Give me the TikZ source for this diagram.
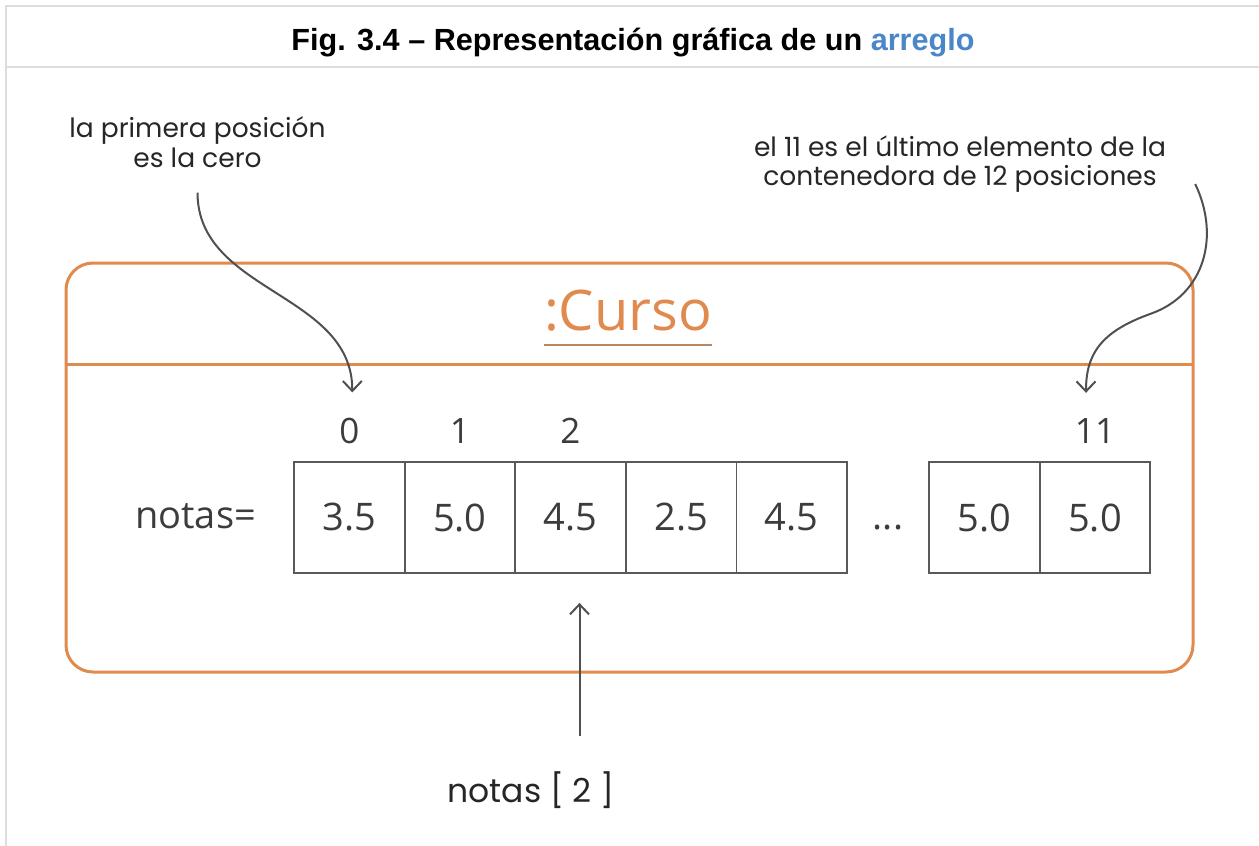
\documentclass[tikz,border=0pt]{standalone}
\usepackage{fontspec}
\setmainfont{Liberation Sans}
\newfontfamily\valfont{Open Sans}
\newfontfamily\handfont{Poppins}
\usetikzlibrary{positioning,arrows.meta,calc}
\definecolor{cursoorange}{HTML}{E08A4E}
\definecolor{framegray}{HTML}{DDDDDD}
\definecolor{inkgray}{HTML}{3C3C3C}
\definecolor{linkblue}{HTML}{4A86C8}
\tikzset{
  cell/.style={draw=inkgray!85, line width=1.8pt, minimum width=110.6pt, minimum height=111pt,
    inner sep=0pt, font=\valfont\fontsize{38}{40}\selectfont, text=inkgray},
  idx/.style={font=\valfont\fontsize{35}{38}\selectfont, text=inkgray, inner sep=0pt},
  hand/.style={font=\handfont\fontsize{26.5}{29.5}\selectfont, align=center, inner sep=0pt, text=black!85},
  pointer/.style={-{Straight Barb[length=10pt,width=19pt]}, line width=2pt, draw=inkgray!90},
}
\begin{document}
\begin{tikzpicture}[x=1pt, y=-1pt]
  \useasboundingbox (0,0) rectangle (1259,846);
  % --- marco y titulo ---
  \draw[framegray, line width=2pt] (6,846) -- (6,6) -- (1259,6);
  \draw[framegray, line width=2pt] (6,67) -- (1259,67);
  \node[font=\bfseries\fontsize{30.6}{36}\selectfont, anchor=base, inner sep=0pt] (titulo) at (633,50)
    {Fig. 3.4 – Representación gráfica de un \textcolor{linkblue}{arreglo}};

  % --- objeto :Curso ---
  \draw[cursoorange, line width=3pt, rounded corners=27pt] (66,263) rectangle (1193,672);
  \draw[cursoorange, line width=3pt] (66,364) -- (1193,364);
  \node[font=\valfont\fontsize{56}{60}\selectfont, text=cursoorange, anchor=base, inner sep=0pt] (curso) at (628,330) {:Curso};
  \draw[cursoorange!60!gray, line width=1.5pt] ([yshift=-15pt]curso.base west) -- ([yshift=-15pt]curso.base east);

  % --- arreglo notas ---
  \node[font=\valfont\fontsize{38}{40}\selectfont, text=inkgray, anchor=base west, inner sep=0pt] (nombre) at (135,528) {notas=};
  \foreach \i/\v in {0/3.5,1/5.0,2/4.5,3/2.5,4/4.5}
    \node[cell] (c\i) at ({349.3+110.6*\i},517.5) {\v};
  \node[font=\valfont\fontsize{38}{40}\selectfont, text=inkgray, anchor=base, inner sep=0pt] (puntos) at (888,529) {...};
  \foreach \i/\v/\x in {10/5.0/984.5,11/5.0/1095}
    \node[cell] (c\i) at (\x,517.5) {\v};
  % indices
  \foreach \i in {0,1,2,11}
    \node[idx, anchor=base] (i\i) at (c\i.center |- 0,443) {\i};

  % --- anotaciones ---
  \node[hand] (primera) at (197.5,142) {la primera posición\\es la cero};
  \node[hand] (ultimo) at (960,164) {el 11 es el último elemento de la\\contenedora de 12 posiciones};
  \node[hand, font=\handfont\fontsize{33}{36}\selectfont, anchor=base] (acceso) at (531,802) {notas [ 2 ]};

  \draw[pointer] ([yshift=-25pt]primera.south) .. controls +(0,100) and +(0,-100) .. ([xshift=3pt,yshift=25pt]i0.north);
  \draw[pointer] ([xshift=29pt,yshift=-20pt]ultimo.east) .. controls +(25,52) and +(55,-19) .. (1150,314)
    .. controls +(-50,18) and +(0,-38) .. ([xshift=-9pt,yshift=25pt]i11.north);
  \draw[pointer] ([xshift=9pt,yshift=-162pt]c2.south) -- ([xshift=9pt,yshift=-29pt]c2.south);
\end{tikzpicture}
\end{document}
